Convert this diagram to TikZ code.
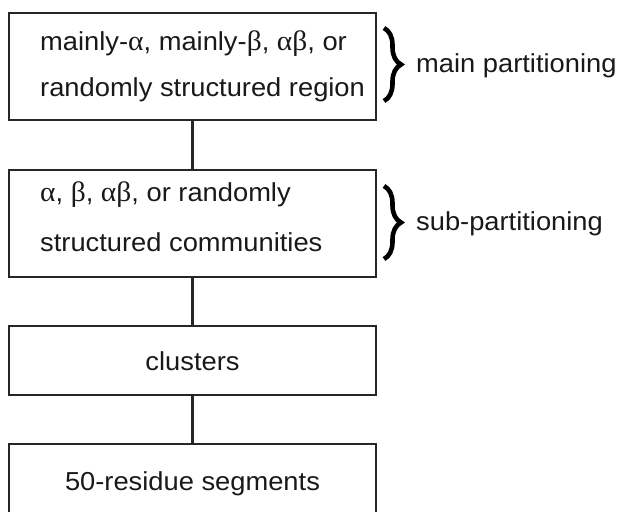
\documentclass[tikz,border=0pt]{standalone}
\usepackage{fontspec}
\setmainfont[FakeStretch=1.05]{Liberation Sans}
\newfontfamily\greekfont[FakeStretch=1.05,Scale=1.08]{Liberation Serif}
\usetikzlibrary{decorations.pathreplacing}
\newcommand{\galpha}{{\greekfont α}}
\newcommand{\gbeta}{{\greekfont β}}
\begin{document}
\begin{tikzpicture}[x=1pt,y=1pt,
  box/.style={draw=black!85, line width=2.4pt, minimum width=367pt, inner sep=0pt},
  txt/.style={font=\fontsize{26}{30}\selectfont, text=black!90, inner sep=0pt},
  link/.style={draw=black!85, line width=2.4pt},
  curly/.style={draw=black, line width=4.6pt, decorate, decoration={brace, amplitude=17pt}}]
\useasboundingbox (0,0) rectangle (622,-512);
% the four levels of the hierarchy
\node[box, minimum height=107pt] (b1) at (192.5,-66.5) {};
\node[box, minimum height=107pt] (b2) at (192.5,-223.5) {};
\node[box, minimum height=69pt]  (b3) at (192.5,-360.5) {};
\node[box, minimum height=69pt]  (b4) at (192.5,-478.5) {};
% connectors
\draw[link] (b1.south) -- (b2.north);
\draw[link] (b2.south) -- (b3.north);
\draw[link] (b3.south) -- (b4.north);
% box texts
\node[txt, anchor=base west] (t1a) at (40,-50) {mainly-\galpha, mainly-\gbeta, \galpha\gbeta, or};
\node[txt, anchor=base west] (t1b) at (40,-96) {randomly structured region};
\node[txt, anchor=base west] (t2a) at (40,-201) {\galpha, \gbeta, \galpha\gbeta, or randomly};
\node[txt, anchor=base west] (t2b) at (40,-251) {structured communities};
\node[txt, anchor=base] (t3) at (192.5,-370) {clusters};
\node[txt, anchor=base] (t4) at (192.5,-490) {50-residue segments};
% braces with their labels
\coordinate (br1t) at (384,-28);
\coordinate (br1b) at (384,-101);
\draw[curly] (br1t) -- (br1b);
\node[txt, anchor=base west] (l1) at (416,-72) {main partitioning};
\coordinate (br2t) at (384,-186);
\coordinate (br2b) at (384,-259);
\draw[curly] (br2t) -- (br2b);
\node[txt, anchor=base west] (l2) at (416,-230) {sub-partitioning};
\end{tikzpicture}
\end{document}
